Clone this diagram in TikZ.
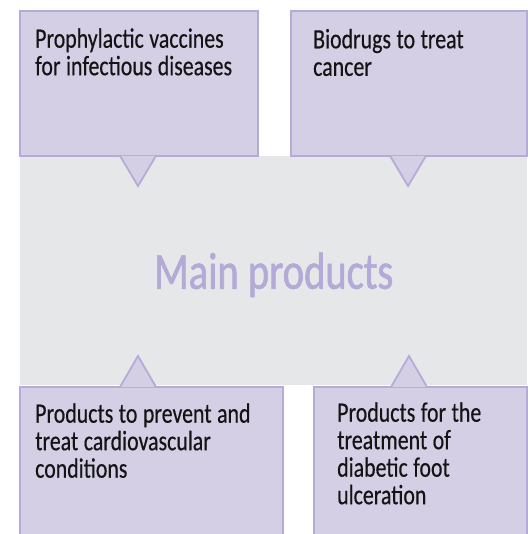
\documentclass[tikz,border=0pt]{standalone}
\usepackage{fontspec}
\setmainfont[FakeStretch=0.78, FakeBold=0.4]{Carlito}
\newfontfamily\headfont[FakeStretch=0.78, FakeBold=1.2]{Carlito}
\usetikzlibrary{positioning}

\definecolor{boxfill}{HTML}{D5CFE6}
\definecolor{boxline}{HTML}{B4ABD8}
\definecolor{mainfill}{HTML}{E6E7E8}
\definecolor{maintext}{HTML}{B3AAD8}
\definecolor{labeltext}{HTML}{141414}

\begin{document}
\begin{tikzpicture}[x=1pt, y=-1pt,
  product/.style={rectangle, draw=boxline, fill=boxfill, line width=1.8pt, anchor=north west, inner sep=0pt},
  pointer/.style={draw=boxline, fill=boxfill, line width=1.8pt, line join=miter},
  label/.style={anchor=base west, inner sep=0pt, text width=240pt, text=labeltext,
    font=\fontsize{28}{27.5}\selectfont, execute at begin node={\spaceskip=5.5pt\relax}}
]
\useasboundingbox (0,0) rectangle (527,534);

% centre field
\node[fill=mainfill, minimum width=507pt, minimum height=229pt, anchor=north west, inner sep=0pt,
  text=maintext, text depth=0pt, font=\headfont\fontsize{52}{54}\selectfont] (main) at (20,156) {Main products};

% the four products
\node[product, minimum width=238pt, minimum height=145pt] (vaccines) at (19,10) {};
\node[product, minimum width=236pt, minimum height=145pt] (biodrugs) at (290,10) {};
\node[product, minimum width=263pt, minimum height=170pt] (cardio) at (19,386) {};
\node[product, minimum width=213pt, minimum height=170pt] (diabetic) at (313,386) {};

% pointer tips
\coordinate (tipA) at (138,186);
\coordinate (tipB) at (408,186);
\coordinate (tipC) at (138,356);
\coordinate (tipD) at (409,356);

\draw[pointer] ([xshift=-18pt,yshift=1pt]tipA |- vaccines.south) -- (tipA) -- ([xshift=18pt,yshift=1pt]tipA |- vaccines.south);
\draw[pointer] ([xshift=-18pt,yshift=1pt]tipB |- biodrugs.south) -- (tipB) -- ([xshift=18pt,yshift=1pt]tipB |- biodrugs.south);
\draw[pointer] ([xshift=-18pt,yshift=-1pt]tipC |- cardio.north) -- (tipC) -- ([xshift=18pt,yshift=-1pt]tipC |- cardio.north);
\draw[pointer] ([xshift=-18pt,yshift=-1pt]tipD |- diabetic.north) -- (tipD) -- ([xshift=18pt,yshift=-1pt]tipD |- diabetic.north);

% texts
\node[label] (vaccinestext) at ([xshift=16pt,yshift=-37.7pt]vaccines.north west) {Prophylactic vaccines\\for infectious diseases};
\node[label] (biodrugstext) at ([xshift=23pt,yshift=-38.3pt]biodrugs.north west) {Biodrugs to treat\\cancer};
\node[label] (cardiotext) at ([xshift=16pt,yshift=-36.7pt]cardio.north west) {Products to prevent and\\treat cardiovascular\\conditions};
\node[label] (diabetictext) at ([xshift=24pt,yshift=-35.7pt]diabetic.north west) {Products for the\\treatment of\\diabetic foot\\ulceration};
\end{tikzpicture}
\end{document}
